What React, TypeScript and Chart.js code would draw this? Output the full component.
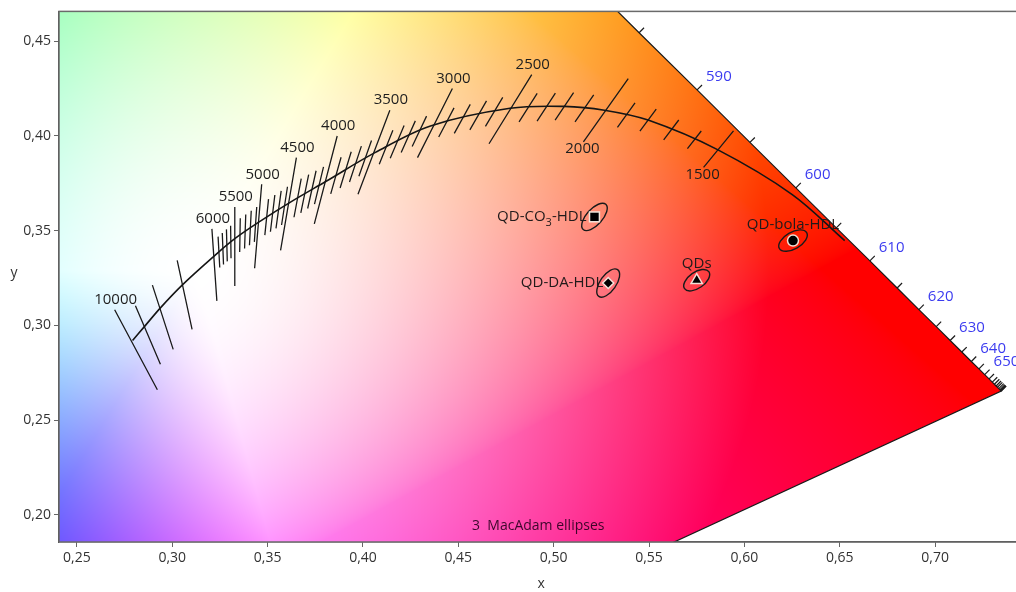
import React, { useEffect, useRef } from 'react';
import { Chart, registerables } from 'chart.js';

Chart.register(...registerables);

// ---------------- data ----------------
// Planckian locus
const locusK = [10000, 9000, 8000, 7000, 6000, 5500, 5000, 4500, 4000, 3500, 3000, 2500, 2200, 2000, 1800, 1500, 1200, 1000];
const locusX = [0.2792, 0.2854, 0.2938, 0.3052, 0.3224, 0.3328, 0.3464, 0.3620, 0.3807, 0.4063, 0.4354, 0.4771, 0.5056, 0.5266, 0.5495, 0.5859, 0.6251, 0.6526];
const locusY = [0.2920, 0.2993, 0.3092, 0.3212, 0.3369, 0.3457, 0.3551, 0.3650, 0.3760, 0.3911, 0.4052, 0.4145, 0.4155, 0.4135, 0.4083, 0.3927, 0.3690, 0.3447];

// Major isotemperature lines
const cctMajorK = [10000, 9000, 8000, 7000, 6000, 5500, 5000, 4500, 4000, 3500, 3000, 2500, 2000, 1500];
const cctUpperX = [0.2698, 0.2807, 0.2896, 0.3026, 0.3208, 0.3328, 0.3469, 0.3651, 0.3865, 0.4141, 0.4469, 0.4885, 0.5391, 0.5943];
const cctUpperY = [0.3082, 0.3103, 0.3212, 0.3343, 0.3509, 0.3624, 0.3744, 0.3885, 0.3999, 0.4135, 0.4250, 0.4323, 0.4302, 0.4026];
const cctLowerX = [0.2922, 0.2938, 0.3005, 0.3104, 0.3234, 0.3328, 0.3432, 0.3568, 0.3745, 0.3974, 0.4286, 0.4661, 0.5156, 0.5786];
const cctLowerY = [0.2660, 0.2795, 0.2873, 0.2978, 0.3129, 0.3207, 0.3301, 0.3395, 0.3535, 0.3692, 0.3885, 0.3958, 0.3968, 0.3833];
const cctLabels = ['10000', '', '', '', '6000', '5500', '5000', '4500', '4000', '3500', '3000', '2500', '2000', '1500'];
const cctLabelBelow = [2000, 1500];

// Minor isotemperature ticks (K)
const minorK = [5900, 5800, 5700, 5600, 5400, 5300, 5200, 5100, 4900, 4800, 4700, 4600, 4400, 4300, 4200, 4100,
  3900, 3800, 3700, 3600, 3400, 3300, 3200, 3100, 2900, 2800, 2700, 2600, 2400, 2300, 2200, 2100, 1900, 1800, 1700, 1600];

// CIE 1931 spectral locus
const spectralNm = [380, 400, 420, 440, 450, 460, 470, 475, 480, 485, 490, 495, 500, 505, 510, 515, 520, 525, 530, 535, 540, 545, 550, 555, 560, 565, 570, 575, 580, 585, 590, 595, 600, 605, 610, 615, 620, 625, 630, 635, 640, 645, 650, 655, 660, 665, 670, 675, 680, 685, 690, 695, 700];
const spectralX = [0.1741, 0.1733, 0.1714, 0.1644, 0.1566, 0.1440, 0.1241, 0.1096, 0.0913, 0.0687, 0.0454, 0.0235, 0.0082, 0.0039, 0.0139, 0.0389, 0.0743, 0.1142, 0.1547, 0.1929, 0.2296, 0.2658, 0.3016, 0.3373, 0.3731, 0.4087, 0.4441, 0.4788, 0.5125, 0.5448, 0.5752, 0.6029, 0.6270, 0.6482, 0.6658, 0.6801, 0.6915, 0.7006, 0.7079, 0.7140, 0.7190, 0.7230, 0.7260, 0.7283, 0.7300, 0.7311, 0.7320, 0.7327, 0.7334, 0.7340, 0.7344, 0.7346, 0.7347];
const spectralY = [0.0050, 0.0048, 0.0051, 0.0109, 0.0177, 0.0297, 0.0578, 0.0868, 0.1327, 0.2007, 0.2950, 0.4127, 0.5384, 0.6548, 0.7502, 0.8120, 0.8338, 0.8262, 0.8059, 0.7816, 0.7543, 0.7243, 0.6923, 0.6589, 0.6245, 0.5896, 0.5547, 0.5202, 0.4866, 0.4544, 0.4242, 0.3965, 0.3725, 0.3514, 0.3340, 0.3197, 0.3083, 0.2993, 0.2920, 0.2859, 0.2809, 0.2770, 0.2740, 0.2717, 0.2700, 0.2689, 0.2680, 0.2673, 0.2666, 0.2660, 0.2656, 0.2654, 0.2653];
const spectralTickFrom = 580;
const spectralLabelNm = [590, 600, 610, 620, 630, 640, 650];

// Samples
const sampleNames = ['QD-CO3-HDL', 'QD-DA-HDL', 'QDs', 'QD-bola-HDL'];
const sampleX = [0.5214, 0.5286, 0.5750, 0.6255];
const sampleY = [0.3572, 0.3223, 0.3238, 0.3447];
// 3-step MacAdam ellipses: semi-axes (xy units) and tilt (deg)
const ellipseA = [0.0089, 0.0086, 0.0078, 0.0083];
const ellipseB = [0.0042, 0.0042, 0.0042, 0.0044];
const ellipseAngle = [48, 55, 35, 30];

const xTickStep = 0.05;
const yTickStep = 0.05;

// ---------------- helpers ----------------
const X_MIN = 0.240625, X_MAX = 0.746354;
const Y_MIN = 0.185662, Y_MAX = 0.465641;
const FONT = '"Open Sans", "Noto Sans", sans-serif';

function lerpAt(ks: number[], vs: number[], T: number) {
  for (let i = 0; i < ks.length - 1; i++) {
    if (T <= ks[i] && T >= ks[i + 1]) {
      const t = (ks[i] - T) / (ks[i] - ks[i + 1]);
      return vs[i] + t * (vs[i + 1] - vs[i]);
    }
  }
  return NaN;
}

function buildMajor() {
  const pts: any[] = [];
  cctMajorK.forEach((_, i) => {
    pts.push({ x: cctLowerX[i], y: cctLowerY[i] });
    pts.push({ x: cctUpperX[i], y: cctUpperY[i] });
    pts.push({ x: cctUpperX[i], y: null });
  });
  return pts;
}

function buildMinor() {
  const dxs = cctMajorK.map((_, i) => cctUpperX[i] - cctLowerX[i]);
  const dys = cctMajorK.map((_, i) => cctUpperY[i] - cctLowerY[i]);
  const pts: any[] = [];
  minorK.forEach((T) => {
    const cx = lerpAt(locusK, locusX, T);
    const cy = lerpAt(locusK, locusY, T);
    const dx = lerpAt(cctMajorK, dxs, T);
    const dy = lerpAt(cctMajorK, dys, T);
    const f = 0.21;
    pts.push({ x: cx - dx * f, y: cy - dy * f });
    pts.push({ x: cx + dx * f, y: cy + dy * f });
    pts.push({ x: cx + dx * f, y: null });
  });
  return pts;
}

// chromaticity -> display colour (wide-gamut matrix, pastel toward the white point)
function fillChroma(x: number, y: number, d: Uint8ClampedArray, k: number) {
  const X = x / y, Z = (1 - x - y) / y;
  let r = 2.0414 * X - 0.5649 - 0.3447 * Z;
  let g = -0.9693 * X + 1.8760 + 0.0416 * Z;
  let b = 0.0134 * X - 0.1184 + 1.0154 * Z;
  if (r < 0) r = 0; if (g < 0) g = 0; if (b < 0) b = 0;
  const m = Math.max(r, g, b);
  r /= m; g /= m; b /= m;
  const bb = Math.max(0, b - Math.max(r, g));
  const dist = Math.hypot(x - 0.3127, y - 0.329);
  const w = Math.max(0, 1 - dist / 0.30) * (1 - bb) * (1 - bb);
  const gm = 1 / (1.5 - 0.45 * bb);
  r = Math.pow(r, gm); g = Math.pow(g, gm); b = Math.pow(b, gm);
  r = r + (1 - r) * w; g = g + (1 - g) * w; b = b + (1 - b) * w;
  d[k] = r * 255; d[k + 1] = g * 255; d[k + 2] = b * 255; d[k + 3] = 255;
}

const fmt = (v: number) => Number(v).toFixed(2).replace('.', ',');

// ---------------- plugins ----------------
const backgroundPlugin = {
  id: 'cieBackground',
  beforeDatasetsDraw(chart: any) {
    const { ctx, chartArea: ca, scales } = chart;
    const xs = scales.x, ys = scales.y;
    const w = Math.round(ca.right - ca.left), h = Math.round(ca.bottom - ca.top);
    const off = document.createElement('canvas');
    off.width = w; off.height = h;
    const octx = off.getContext('2d')!;
    const img = octx.createImageData(w, h);
    const data = img.data;
    const xv: number[] = [];
    for (let i = 0; i < w; i++) xv.push(xs.getValueForPixel(ca.left + i + 0.5));
    for (let j = 0; j < h; j++) {
      const yv = ys.getValueForPixel(ca.top + j + 0.5);
      for (let i = 0; i < w; i++) fillChroma(xv[i], yv, data, (j * w + i) * 4);
    }
    octx.putImageData(img, 0, 0);

    ctx.save();
    ctx.beginPath();
    ctx.rect(ca.left, ca.top, ca.right - ca.left, ca.bottom - ca.top);
    ctx.clip();
    ctx.beginPath();
    spectralX.forEach((sx, i) => {
      const px = xs.getPixelForValue(sx), py = ys.getPixelForValue(spectralY[i]);
      if (i) ctx.lineTo(px, py); else ctx.moveTo(px, py);
    });
    ctx.closePath();
    ctx.save();
    ctx.clip();
    ctx.drawImage(off, ca.left, ca.top);
    ctx.restore();
    ctx.lineWidth = 1.2;
    ctx.strokeStyle = '#1a1a1a';
    ctx.stroke();

    // spectral ticks and labels
    ctx.font = `15px ${FONT}`;
    ctx.fillStyle = '#3b3bf0';
    ctx.textAlign = 'left';
    ctx.textBaseline = 'middle';
    ctx.lineWidth = 1.2;
    ctx.strokeStyle = '#1a1a1a';
    const P = (i: number) => [xs.getPixelForValue(spectralX[i]), ys.getPixelForValue(spectralY[i])];
    spectralNm.forEach((nm, i) => {
      if (nm < spectralTickFrom) return;
      const [px, py] = P(i);
      const [ax, ay] = P(i - 1);
      const [bx, by] = P(Math.min(i + 1, spectralNm.length - 1));
      let tx = bx - ax, ty = by - ay;
      const len = Math.hypot(tx, ty) || 1;
      tx /= len; ty /= len;
      const nx = ty, ny = -tx;
      const L = 7;
      ctx.beginPath();
      ctx.moveTo(px, py);
      ctx.lineTo(px + nx * L, py + ny * L);
      ctx.stroke();
      if (spectralLabelNm.includes(nm)) {
        ctx.fillText(String(nm), px + nx * L + 4, py + ny * L - 8);
      }
    });

    // MacAdam ellipses
    ctx.lineWidth = 1.4;
    ctx.strokeStyle = '#1a1a1a';
    const kx = Math.abs(xs.getPixelForValue(1) - xs.getPixelForValue(0));
    const ky = Math.abs(ys.getPixelForValue(1) - ys.getPixelForValue(0));
    sampleX.forEach((sx, i) => {
      const cx = xs.getPixelForValue(sx), cy = ys.getPixelForValue(sampleY[i]);
      ctx.beginPath();
      ctx.ellipse(cx, cy, ellipseA[i] * (kx + ky) / 2, ellipseB[i] * (kx + ky) / 2, -ellipseAngle[i] * Math.PI / 180, 0, Math.PI * 2);
      ctx.stroke();
    });
    ctx.restore();

    // frame
    ctx.save();
    ctx.strokeStyle = '#6a6a6a';
    ctx.lineWidth = 1.5;
    ctx.strokeRect(ca.left, ca.top, ca.right - ca.left, ca.bottom - ca.top);
    ctx.restore();
  },
  afterDatasetsDraw(chart: any) {
    const { ctx, chartArea: ca, scales } = chart;
    const xs = scales.x, ys = scales.y;
    ctx.save();
    ctx.beginPath();
    ctx.rect(ca.left, ca.top, ca.right - ca.left, ca.bottom - ca.top);
    ctx.clip();

    // CCT labels
    ctx.font = `15px ${FONT}`;
    ctx.fillStyle = '#1e1e1e';
    ctx.textAlign = 'center';
    ctx.textBaseline = 'middle';
    cctMajorK.forEach((K, i) => {
      if (!cctLabels[i]) return;
      if (cctLabelBelow.includes(K)) {
        ctx.fillText(cctLabels[i], xs.getPixelForValue(cctLowerX[i]) - 1, ys.getPixelForValue(cctLowerY[i]) + 7);
      } else {
        ctx.fillText(cctLabels[i], xs.getPixelForValue(cctUpperX[i]) + 1, ys.getPixelForValue(cctUpperY[i]) - 10);
      }
    });

    // sample labels
    const big = `15px ${FONT}`, small = `11px ${FONT}`;
    sampleNames.forEach((name, i) => {
      const cx = xs.getPixelForValue(sampleX[i]), cy = ys.getPixelForValue(sampleY[i]);
      ctx.fillStyle = '#221a1a';
      ctx.textBaseline = 'middle';
      if (i === 0) {
        const parts = [['QD-CO', big, 0], ['3', small, 6], ['-HDL', big, 0]] as [string, string, number][];
        let total = 0;
        parts.forEach(([t, f]) => { ctx.font = f; total += ctx.measureText(t).width; });
        let x = cx - 8 - total;
        ctx.textAlign = 'left';
        parts.forEach(([t, f, dy]) => { ctx.font = f; ctx.fillText(t, x, cy + dy); x += ctx.measureText(t).width; });
      } else if (i === 1) {
        ctx.font = big; ctx.textAlign = 'right';
        ctx.fillText(name, cx - 5, cy);
      } else {
        ctx.font = big; ctx.textAlign = 'center';
        ctx.fillText(name, cx, cy - 16);
      }
    });

    // caption
    ctx.font = `14px ${FONT}`;
    ctx.fillStyle = 'rgba(40,0,30,0.9)';
    ctx.textAlign = 'center';
    ctx.textBaseline = 'middle';
    ctx.fillText('3  MacAdam ellipses', (ca.left + ca.right) / 2 - 3, ca.bottom - 16);
    ctx.restore();

    // y title (upright)
    ctx.save();
    ctx.font = `14px ${FONT}`;
    ctx.fillStyle = '#333';
    ctx.textAlign = 'center';
    ctx.textBaseline = 'middle';
    ctx.fillText('y', 14, (ca.top + ca.bottom) / 2 - 4);
    ctx.restore();
  },
};

export default function App() {
  const ref = useRef<HTMLCanvasElement>(null);
  useEffect(() => {
    if (!ref.current) return;
    const locusData = locusK.map((_, i) => ({ x: locusX[i], y: locusY[i] }));
    const chart = new Chart(ref.current, {
      type: 'scatter',
      data: {
        datasets: [
          {
            label: 'Planckian locus',
            data: locusData,
            showLine: true,
            tension: 0.35,
            borderColor: '#151515',
            borderWidth: 1.6,
            pointRadius: 0,
          } as any,
          {
            label: 'isotherms',
            data: buildMajor(),
            showLine: true,
            spanGaps: false,
            borderColor: '#1a1a1a',
            borderWidth: 1.3,
            pointRadius: 0,
          } as any,
          {
            label: 'minor isotherms',
            data: buildMinor(),
            showLine: true,
            spanGaps: false,
            borderColor: '#1a1a1a',
            borderWidth: 1.3,
            pointRadius: 0,
          } as any,
          {
            label: 'samples',
            data: sampleX.map((x, i) => ({ x, y: sampleY[i] })),
            pointStyle: ['rect', 'rectRot', 'triangle', 'circle'],
            pointRadius: [7, 5.5, 6.5, 5.5],
            backgroundColor: '#000',
            borderColor: 'rgba(245,235,225,0.95)',
            borderWidth: 1.5,
          } as any,
        ],
      },
      options: {
        animation: false,
        responsive: false,
        maintainAspectRatio: false,
        events: [],
        layout: { padding: { top: 5, left: 0, right: 2, bottom: 0 } },
        plugins: { legend: { display: false }, tooltip: { enabled: false } },
        scales: {
          x: {
            type: 'linear',
            min: X_MIN,
            max: X_MAX,
            afterFit: (s: any) => { s.height = 50; },
            grid: { display: true, drawOnChartArea: false, drawTicks: true, tickLength: 5, color: '#666' },
            border: { display: true, color: '#444', width: 1.2 },
            ticks: { stepSize: xTickStep, includeBounds: false, callback: (v: any) => fmt(v), font: { family: FONT, size: 14 }, color: '#333', padding: 3, maxRotation: 0 },
            title: { display: true, text: 'x', font: { family: FONT, size: 14 }, color: '#333', padding: { top: 0, bottom: 0 } },
          },
          y: {
            type: 'linear',
            min: Y_MIN,
            max: Y_MAX,
            afterFit: (s: any) => { s.width = 59; },
            grid: { display: true, drawOnChartArea: false, drawTicks: true, tickLength: 5, color: '#666' },
            border: { display: true, color: '#444', width: 1.2 },
            ticks: { stepSize: yTickStep, includeBounds: false, callback: (v: any) => fmt(v), font: { family: FONT, size: 14 }, color: '#333', padding: 3 },
          },
        },
      } as any,
      plugins: [backgroundPlugin as any],
    });
    return () => chart.destroy();
  }, []);
  return (
    <div style={{ position: 'fixed', left: 0, top: 0, width: 1016, height: 592, overflow: 'hidden', background: '#fff' }}>
      <canvas ref={ref} width={1032} height={592} style={{ display: 'block' }} />
    </div>
  );
}
